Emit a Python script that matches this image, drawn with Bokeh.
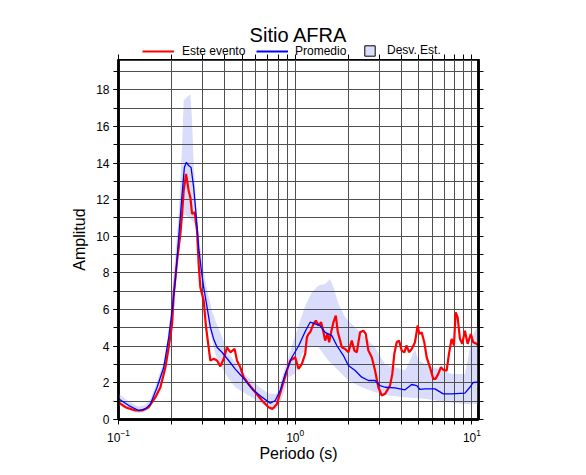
from bokeh.plotting import figure
from bokeh.layouts import column
from bokeh.models import (Range1d, LinearAxis, SingleIntervalTicker, FixedTicker,
                          Legend, LegendItem, Label)
from bokeh.embed import file_html
from bokeh.resources import INLINE

FONT = "Liberation Sans"
NAN = float("nan")

# ---- data (period in s, amplitude) ----
red_T = [0.100, 0.1095, 0.1247, 0.1361, 0.1483, 0.1618, 0.1727, 0.1843, 0.1924, 0.2011,
         0.2053, 0.2146, 0.2240, 0.2290, 0.2338, 0.2412, 0.2495, 0.2551, 0.2608, 0.2698,
         0.2783, 0.2842, 0.2905, 0.3033, 0.3130, 0.3237, 0.3310, 0.3455, 0.3611, 0.3770,
         0.3935, 0.4113, 0.4294, 0.4540, 0.4684, 0.4890, 0.5105, 0.5447, 0.5943, 0.6485,
         0.7067, 0.7444, 0.7882, 0.8413, 0.8976, 0.9371, 1.000, 1.044, 1.091, 1.139,
         1.165, 1.189, 1.215, 1.269, 1.309, 1.354, 1.403, 1.445, 1.477, 1.522,
         1.556, 1.597, 1.646, 1.698, 1.743, 1.796, 1.836, 1.917, 2.000, 2.091,
         2.163, 2.232, 2.329, 2.431, 2.508, 2.595, 2.713, 2.831, 2.955, 3.089,
         3.225, 3.441, 3.545, 3.639, 3.755, 3.869, 4.008, 4.146, 4.277, 4.407,
         4.564, 4.764, 4.934, 5.039, 5.198, 5.377, 5.548, 5.791, 6.045, 6.236,
         6.451, 6.682, 6.886, 7.198, 7.416, 7.681, 7.915, 8.092, 8.306, 8.559,
         8.819, 9.131, 9.456, 9.872, 10.17, 10.63, 10.9]
red_A = [0.94, 0.67, 0.49, 0.49, 0.67, 1.22, 1.76, 2.85, 3.94, 5.22,
         6.86, 8.67, 10.13, 11.22, 12.49, 13.40, 12.49, 12.13, 11.22, 11.31,
         10.31, 8.49, 7.22, 6.49, 5.04, 3.94, 3.22, 3.31, 3.22, 2.90,
         3.30, 3.94, 3.67, 3.85, 3.22, 2.85, 2.31, 1.94, 1.49, 1.04,
         0.67, 0.58, 0.85, 1.76, 2.67, 3.22, 3.40, 2.76, 3.04, 3.58,
         4.49, 4.67, 4.76, 5.22, 5.40, 5.13, 5.31, 4.76, 4.31, 4.67,
         4.22, 4.76, 5.31, 5.67, 4.76, 4.31, 3.94, 3.85, 3.67, 4.31,
         3.76, 3.67, 4.76, 4.85, 4.67, 3.76, 3.40, 2.67, 1.76, 1.31,
         1.40, 1.85, 2.49, 3.58, 4.22, 4.31, 3.76, 3.67, 4.04, 3.67,
         3.85, 4.22, 5.13, 4.67, 4.76, 4.22, 3.40, 2.85, 2.22, 2.22,
         2.49, 2.85, 2.71, 2.67, 3.58, 4.40, 4.04, 5.85, 5.58, 4.40,
         4.13, 4.85, 4.13, 4.67, 4.22, 4.13, 4.04]

blue_T = [0.100, 0.1143, 0.1302, 0.1421, 0.1517, 0.1654, 0.1803, 0.1924, 0.2011, 0.2099,
          0.2191, 0.2290, 0.2360, 0.2422, 0.2495, 0.2574, 0.2663, 0.2748, 0.2842, 0.2944,
          0.3033, 0.3170, 0.3310, 0.3455, 0.3611, 0.3853, 0.4200, 0.4581, 0.4998, 0.5693,
          0.6485, 0.7225, 0.7709, 0.8229, 0.8781, 0.9581, 1.044, 1.139, 1.215, 1.297,
          1.384, 1.477, 1.611, 1.720, 1.875, 2.000, 2.183, 2.381, 2.595, 2.831,
          3.021, 3.225, 3.673, 4.184, 4.564, 4.872, 5.085, 5.427, 6.180, 6.886,
          7.681, 9.131, 9.743, 10.17, 10.9]
blue_A = [1.13, 0.76, 0.49, 0.58, 0.85, 1.76, 2.85, 4.49, 5.95, 7.58,
          9.95, 12.31, 13.76, 14.04, 13.86, 13.76, 12.67, 11.22, 9.40, 8.13,
          7.22, 6.13, 5.04, 4.40, 3.94, 3.67, 3.22, 2.75, 2.35, 1.67,
          1.22, 0.89, 1.04, 1.58, 2.49, 3.40, 4.00, 4.80, 5.31, 5.22,
          5.13, 4.76, 4.58, 4.04, 3.49, 2.95, 2.67, 2.31, 2.13, 2.13,
          1.85, 1.76, 1.73, 1.62, 1.91, 1.85, 1.64, 1.67, 1.67, 1.40,
          1.40, 1.44, 1.76, 2.02, 2.04]

band_hi_T = [0.100, 0.1143, 0.1302, 0.1421, 0.1517, 0.1654, 0.1843, 0.1967, 0.2099, 0.2191,
             0.2290, 0.2338, 0.2444, 0.2551, 0.2608, 0.2663, 0.2783, 0.2971, 0.3100, 0.3237,
             0.3384, 0.3532, 0.3853, 0.4200, 0.4998, 0.5943, 0.7067, 0.7882, 0.8781, 1.0,
             1.139, 1.243, 1.354, 1.477, 1.576, 1.646, 1.757, 1.917, 2.183, 2.486,
             2.831, 3.225, 3.673, 4.184, 4.464, 4.764, 4.973, 5.665, 6.451, 7.681,
             9.131, 9.531, 9.961, 10.63, 10.9]
band_hi_A = [1.40, 1.00, 0.70, 0.80, 1.10, 2.10, 3.40, 5.77, 9.04, 11.22,
             14.85, 17.40, 17.60, 17.76, 16.30, 13.95, 10.86, 8.67, 7.58, 6.67,
             5.95, 5.40, 4.50, 3.60, 2.60, 1.95, 1.40, 1.40, 2.85, 4.60,
             6.20, 6.95, 7.31, 7.40, 7.67, 7.22, 6.31, 5.58, 5.04, 4.49,
             3.94, 3.00, 2.85, 2.67, 3.22, 3.85, 3.22, 2.95, 2.76, 2.49,
             2.49, 3.40, 4.49, 4.95, 5.04]

band_lo_T = [0.100, 0.1143, 0.1302, 0.1421, 0.1517, 0.1654, 0.1843, 0.2011, 0.2099, 0.2191,
             0.2290, 0.2338, 0.2495, 0.2723, 0.2842, 0.2971, 0.3100, 0.3237, 0.3384, 0.3532,
             0.4023, 0.4581, 0.5447, 0.6485, 0.7376, 0.8049, 0.8590, 0.9165, 1.0, 1.091,
             1.189, 1.354, 1.541, 1.757, 2.000, 2.381, 2.831, 3.366, 4.184, 5.427,
             7.039, 9.131, 10.9]
band_lo_A = [0.76, 0.50, 0.35, 0.45, 0.65, 1.40, 2.67, 4.85, 6.86, 9.04,
             10.80, 11.20, 11.04, 10.67, 8.30, 7.00, 6.00, 5.00, 4.30, 3.58,
             2.49, 1.76, 1.31, 0.85, 0.49, 0.67, 1.40, 2.31, 2.50, 3.58,
             4.00, 3.94, 3.22, 2.67, 2.13, 1.76, 1.49, 1.31, 1.22, 1.13,
             0.95, 0.85, 0.85]

x_major = [0.1, 1, 10]
x_minor = [m * d for d in (0.1, 1, 10) for m in range(2, 10)]
y_all = list(range(0, 20))
title_text = "Sitio AFRA"
legend_labels = ["Este evento", "Promedio", "Desv. Est."]

X0, X1 = 0.1, 10.9
Y0, Y1 = 0.0, 19.65
FRAME = 360
LEFT, RIGHT, HEAD = 118, 100, 59
WIDTH = LEFT + FRAME + RIGHT

BAND = "#d9dcfa"
GRID = "#505050"
RED = "#ff0000"
BLUE = "#0000ff"

def style_axis(ax):
    ax.axis_line_color = "black"
    ax.axis_line_width = 2.5
    ax.major_tick_in = 0
    ax.major_tick_out = 5
    ax.minor_tick_in = 0
    ax.minor_tick_out = 5
    ax.major_tick_line_color = "black"
    ax.minor_tick_line_color = "black"
    ax.major_label_text_font = FONT
    ax.major_label_text_font_size = "12px"
    ax.major_label_text_color = "black"
    ax.axis_label_text_font = FONT
    ax.axis_label_text_font_size = "16px"
    ax.axis_label_text_font_style = "normal"
    ax.axis_label_text_color = "black"
    ax.major_label_standoff = 4

# ---------------- main plot ----------------
p = figure(x_axis_type="log", x_range=Range1d(X0, X1), y_range=Range1d(Y0, Y1),
           frame_width=FRAME, frame_height=FRAME,
           min_border_left=LEFT, min_border_right=RIGHT, min_border_top=0, min_border_bottom=50,
           output_backend="svg", toolbar_location=None)
p.background_fill_color = "white"
p.border_fill_color = "white"
p.outline_line_color = "black"
p.outline_line_width = 2.5

xt = FixedTicker(ticks=x_major, minor_ticks=x_minor)
yt = SingleIntervalTicker(interval=2, num_minor_ticks=2)

p.xaxis.ticker = xt
p.yaxis.ticker = yt
p.xgrid.ticker = xt
p.ygrid.ticker = yt

for g in (p.xgrid[0], p.ygrid[0]):
    g.grid_line_color = GRID
    g.grid_line_width = 1
    g.minor_grid_line_color = GRID
    g.minor_grid_line_width = 1

style_axis(p.xaxis[0])
style_axis(p.yaxis[0])
p.xaxis.axis_label = "Periodo (s)"
p.yaxis.axis_label = "Amplitud"
p.xaxis.axis_label_standoff = 0
p.yaxis.axis_label_standoff = 5

# right: ticks only (all as minor ticks, so no labels)
right = LinearAxis(ticker=FixedTicker(ticks=[], minor_ticks=y_all))
style_axis(right)
right.major_label_standoff = 0
p.add_layout(right, "right")

band_x = band_hi_T + band_lo_T[::-1]
band_y = band_hi_A + band_lo_A[::-1]
p.patch(x=band_x, y=band_y, fill_color=BAND, fill_alpha=1, line_color=None, level="image")
p.line(x=red_T, y=red_A, line_color=RED, line_width=2.2)
p.line(x=blue_T, y=blue_A, line_color=BLUE, line_width=1.3)

# ---------------- header: title + legend + top ticks ----------------
h = figure(width=WIDTH, height=HEAD, x_axis_type="log", y_axis_type=None,
           x_range=p.x_range, y_range=Range1d(0, 1),
           min_border=0, output_backend="svg", toolbar_location=None)
h.outline_line_color = None
h.background_fill_color = "white"
h.border_fill_color = "white"
h.xgrid.visible = False
hx = h.xaxis[0]
hx.ticker = FixedTicker(ticks=[], minor_ticks=x_major + x_minor)
hx.axis_line_color = None
hx.major_tick_in = 0
hx.major_tick_out = 0
hx.minor_tick_in = 5
hx.minor_tick_out = 0
hx.minor_tick_line_color = "black"
hx.major_label_standoff = 0

lr = h.line(x=[NAN], y=[NAN], line_color=RED, line_width=2)
lb = h.line(x=[NAN], y=[NAN], line_color=BLUE, line_width=2)
lbox = h.rect(x=[NAN], y=[NAN], width=[NAN], height=[NAN], fill_color=BAND,
              line_color="black", line_width=1)

def add_legend(label, rend, x, y, gw, gh, standoff):
    lg = Legend(items=[LegendItem(label=label, renderers=[rend])], location=(x, y),
                orientation="horizontal", padding=0, margin=0, spacing=0,
                glyph_width=gw, glyph_height=gh, label_standoff=standoff, label_height=gh,
                label_text_font=FONT, label_text_font_size="12px", label_text_color="black",
                background_fill_alpha=0, border_line_alpha=0)
    h.add_layout(lg)

add_legend(legend_labels[0], lr, 142 - LEFT, 1.5, 32, 14, 8)
add_legend(legend_labels[1], lb, 256 - LEFT, 1.5, 32, 14, 7)
add_legend(legend_labels[2], lbox, 363 - LEFT, 2, 13, 13, 11)

h.add_layout(Label(x=FRAME / 2, y=25, x_units="screen", y_units="screen",
                   text=title_text, text_align="center", text_baseline="alphabetic",
                   text_font=FONT, text_font_size="20px", text_color="black"))

layout = column(h, p, spacing=0)
open("out.html", "w").write(file_html(layout, INLINE))
